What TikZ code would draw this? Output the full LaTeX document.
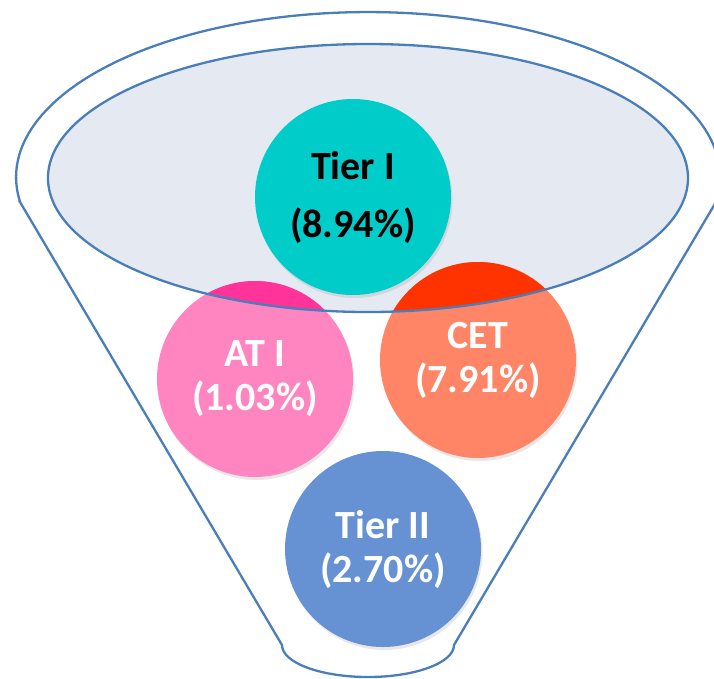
\documentclass[tikz,border=0pt]{standalone}
\usepackage{fontspec}
\setmainfont{Carlito}
\usetikzlibrary{shadows}

\definecolor{funnelline}{HTML}{4A7EBB}
\definecolor{mouthfill}{HTML}{E4E9F2}
\definecolor{tierIfill}{HTML}{00CCC9}
\definecolor{atIfill}{HTML}{FF85C0}
\definecolor{atIdeep}{HTML}{FF3399}
\definecolor{cetfill}{HTML}{FF8566}
\definecolor{cetdeep}{HTML}{FF3300}
\definecolor{tierIIfill}{HTML}{6692D4}

\tikzset{
  bubble/.style={circle, minimum size=196, inner sep=0pt, align=center,
    font=\fontsize{40}{44}\selectfont\bfseries,
    drop shadow={shadow xshift=1.5pt, shadow yshift=-3pt, opacity=.18}},
  mouth/.style={line width=2.3pt, draw=funnelline}
}

\begin{document}
\begin{tikzpicture}[x=1pt,y=-1pt]

          \useasboundingbox (0,0) rectangle (714,678);

          % funnel outline
          \draw[mouth] (20,202) -- (282,645)
            arc[start angle=180, end angle=0, x radius=86, y radius=32]
            -- (716,202)
            arc[start angle=8.7, end angle=-188.7, x radius=352, y radius=165]
            -- cycle;

          % inner mouth
          \fill[mouthfill] (368,178) ellipse[x radius=320, y radius=134];

          \begin{scope}[every node/.style={bubble, text=white}]
            \node[fill=atIfill] (atI) at (255,379) {AT I\\(1.03\%)};
            \node[fill=cetfill] (cet) at (478,360) {CET\\(7.91\%)};
          \end{scope}

          \begin{scope}
            \clip (368,178) ellipse[x radius=320, y radius=134];
            \fill[atIdeep] (atI.center) circle[radius=98];
            \fill[cetdeep] (cet.center) circle[radius=98];
          \end{scope}

          \draw[mouth] (368,178) ellipse[x radius=320, y radius=134];

          \begin{scope}[every node/.style={bubble}]
            \node[fill=tierIfill, text=black] (tierI) at (353,197) {Tier I\\[14pt](8.94\%)};
            \node[fill=tierIIfill, text=white] (tierII) at (383,549) {Tier II\\(2.70\%)};
          \end{scope}

        \end{tikzpicture}
\end{document}
